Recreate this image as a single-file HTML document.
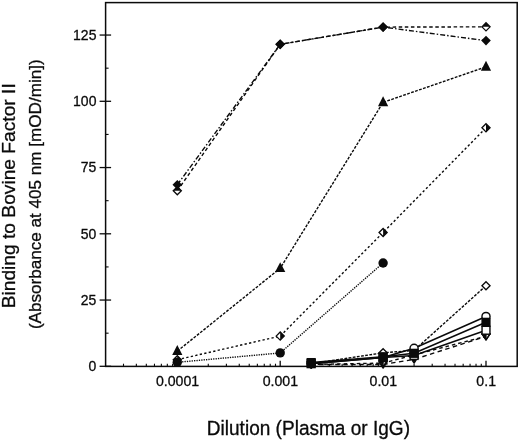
<!DOCTYPE html>
<html><head><meta charset="utf-8"><title>Chart</title>
<style>
html,body{margin:0;padding:0;background:#fff;}
svg text{font-family:"Liberation Sans",sans-serif;fill:#0a0a0a;stroke:#0a0a0a;stroke-width:0.3px;}
.t{font-size:14.5px;}
.xl{font-size:19.5px;}
.yl1{font-size:19.2px;}
.yl2{font-size:17.1px;}
</style></head><body>
<svg width="520" height="441" viewBox="0 0 520 441" style="display:block">
<rect width="520" height="441" fill="#fff"/>
<rect x="105.6" y="2.6" width="411.6" height="363.79999999999995" fill="none" stroke="#0a0a0a" stroke-width="1.5"/>
<line x1="99.6" x2="111.1" y1="366.30" y2="366.30" stroke="#0a0a0a" stroke-width="1.3"/>
<text transform="translate(96.39999999999999,371.10) scale(0.965,1)" text-anchor="end" class="t">0</text>
<line x1="99.6" x2="111.1" y1="300.05" y2="300.05" stroke="#0a0a0a" stroke-width="1.3"/>
<text transform="translate(96.39999999999999,304.85) scale(0.965,1)" text-anchor="end" class="t">25</text>
<line x1="99.6" x2="111.1" y1="233.80" y2="233.80" stroke="#0a0a0a" stroke-width="1.3"/>
<text transform="translate(96.39999999999999,238.60) scale(0.965,1)" text-anchor="end" class="t">50</text>
<line x1="99.6" x2="111.1" y1="167.55" y2="167.55" stroke="#0a0a0a" stroke-width="1.3"/>
<text transform="translate(96.39999999999999,172.35) scale(0.965,1)" text-anchor="end" class="t">75</text>
<line x1="99.6" x2="111.1" y1="101.30" y2="101.30" stroke="#0a0a0a" stroke-width="1.3"/>
<text transform="translate(96.39999999999999,106.10) scale(0.965,1)" text-anchor="end" class="t">100</text>
<line x1="99.6" x2="111.1" y1="35.05" y2="35.05" stroke="#0a0a0a" stroke-width="1.3"/>
<text transform="translate(96.39999999999999,39.85) scale(0.965,1)" text-anchor="end" class="t">125</text>
<line x1="105.6" x2="108.6" y1="333.18" y2="333.18" stroke="#0a0a0a" stroke-width="1.1"/>
<line x1="105.6" x2="108.6" y1="266.93" y2="266.93" stroke="#0a0a0a" stroke-width="1.1"/>
<line x1="105.6" x2="108.6" y1="200.68" y2="200.68" stroke="#0a0a0a" stroke-width="1.1"/>
<line x1="105.6" x2="108.6" y1="134.43" y2="134.43" stroke="#0a0a0a" stroke-width="1.1"/>
<line x1="105.6" x2="108.6" y1="68.18" y2="68.18" stroke="#0a0a0a" stroke-width="1.1"/>
<line x1="177.30" x2="177.30" y1="360.79999999999995" y2="366.4" stroke="#0a0a0a" stroke-width="1.3"/>
<text transform="translate(177.50,385.79999999999995) scale(0.976,1)" text-anchor="middle" class="t">0.0001</text>
<line x1="280.20" x2="280.20" y1="360.79999999999995" y2="366.4" stroke="#0a0a0a" stroke-width="1.3"/>
<text transform="translate(280.40,385.79999999999995) scale(0.976,1)" text-anchor="middle" class="t">0.001</text>
<line x1="383.10" x2="383.10" y1="360.79999999999995" y2="366.4" stroke="#0a0a0a" stroke-width="1.3"/>
<text transform="translate(383.30,385.79999999999995) scale(0.976,1)" text-anchor="middle" class="t">0.01</text>
<line x1="486.00" x2="486.00" y1="360.79999999999995" y2="366.4" stroke="#0a0a0a" stroke-width="1.3"/>
<text transform="translate(486.20,385.79999999999995) scale(0.976,1)" text-anchor="middle" class="t">0.1</text>
<line x1="123.50" x2="123.50" y1="363.7" y2="366.4" stroke="#0a0a0a" stroke-width="1.1"/>
<line x1="136.35" x2="136.35" y1="363.7" y2="366.4" stroke="#0a0a0a" stroke-width="1.1"/>
<line x1="146.32" x2="146.32" y1="363.7" y2="366.4" stroke="#0a0a0a" stroke-width="1.1"/>
<line x1="154.47" x2="154.47" y1="363.7" y2="366.4" stroke="#0a0a0a" stroke-width="1.1"/>
<line x1="161.36" x2="161.36" y1="363.7" y2="366.4" stroke="#0a0a0a" stroke-width="1.1"/>
<line x1="167.33" x2="167.33" y1="363.7" y2="366.4" stroke="#0a0a0a" stroke-width="1.1"/>
<line x1="172.59" x2="172.59" y1="363.7" y2="366.4" stroke="#0a0a0a" stroke-width="1.1"/>
<line x1="208.28" x2="208.28" y1="363.7" y2="366.4" stroke="#0a0a0a" stroke-width="1.1"/>
<line x1="226.40" x2="226.40" y1="363.7" y2="366.4" stroke="#0a0a0a" stroke-width="1.1"/>
<line x1="239.25" x2="239.25" y1="363.7" y2="366.4" stroke="#0a0a0a" stroke-width="1.1"/>
<line x1="249.22" x2="249.22" y1="363.7" y2="366.4" stroke="#0a0a0a" stroke-width="1.1"/>
<line x1="257.37" x2="257.37" y1="363.7" y2="366.4" stroke="#0a0a0a" stroke-width="1.1"/>
<line x1="264.26" x2="264.26" y1="363.7" y2="366.4" stroke="#0a0a0a" stroke-width="1.1"/>
<line x1="270.23" x2="270.23" y1="363.7" y2="366.4" stroke="#0a0a0a" stroke-width="1.1"/>
<line x1="275.49" x2="275.49" y1="363.7" y2="366.4" stroke="#0a0a0a" stroke-width="1.1"/>
<line x1="311.18" x2="311.18" y1="363.7" y2="366.4" stroke="#0a0a0a" stroke-width="1.1"/>
<line x1="329.30" x2="329.30" y1="363.7" y2="366.4" stroke="#0a0a0a" stroke-width="1.1"/>
<line x1="342.15" x2="342.15" y1="363.7" y2="366.4" stroke="#0a0a0a" stroke-width="1.1"/>
<line x1="352.12" x2="352.12" y1="363.7" y2="366.4" stroke="#0a0a0a" stroke-width="1.1"/>
<line x1="360.27" x2="360.27" y1="363.7" y2="366.4" stroke="#0a0a0a" stroke-width="1.1"/>
<line x1="367.16" x2="367.16" y1="363.7" y2="366.4" stroke="#0a0a0a" stroke-width="1.1"/>
<line x1="373.13" x2="373.13" y1="363.7" y2="366.4" stroke="#0a0a0a" stroke-width="1.1"/>
<line x1="378.39" x2="378.39" y1="363.7" y2="366.4" stroke="#0a0a0a" stroke-width="1.1"/>
<line x1="414.08" x2="414.08" y1="363.7" y2="366.4" stroke="#0a0a0a" stroke-width="1.1"/>
<line x1="432.20" x2="432.20" y1="363.7" y2="366.4" stroke="#0a0a0a" stroke-width="1.1"/>
<line x1="445.05" x2="445.05" y1="363.7" y2="366.4" stroke="#0a0a0a" stroke-width="1.1"/>
<line x1="455.02" x2="455.02" y1="363.7" y2="366.4" stroke="#0a0a0a" stroke-width="1.1"/>
<line x1="463.17" x2="463.17" y1="363.7" y2="366.4" stroke="#0a0a0a" stroke-width="1.1"/>
<line x1="470.06" x2="470.06" y1="363.7" y2="366.4" stroke="#0a0a0a" stroke-width="1.1"/>
<line x1="476.03" x2="476.03" y1="363.7" y2="366.4" stroke="#0a0a0a" stroke-width="1.1"/>
<line x1="481.29" x2="481.29" y1="363.7" y2="366.4" stroke="#0a0a0a" stroke-width="1.1"/>
<text transform="translate(308.4,434.6) scale(0.977,1)" text-anchor="middle" class="xl">Dilution (Plasma or IgG)</text>
<text transform="translate(15,195.8) rotate(-90)" text-anchor="middle" class="yl1">Binding to Bovine Factor II</text>
<text transform="translate(41.2,194.2) rotate(-90)" text-anchor="middle" class="yl2">(Absorbance at 405 nm [mOD/min])</text>
<polyline points="311.18,364.44 383.10,364.44 414.08,359.41 486.00,336.36" fill="none" stroke="#0a0a0a" stroke-width="1.4" stroke-dasharray="4.5 3.5"/>
<polyline points="311.18,364.44 383.10,363.12 414.08,354.91 486.00,336.36" fill="none" stroke="#0a0a0a" stroke-width="1.4" stroke-dasharray="3.5 3"/>
<polyline points="311.18,363.65 383.10,357.56 414.08,355.44 486.00,330.26" fill="none" stroke="#0a0a0a" stroke-width="1.6"/>
<polyline points="311.18,362.59 383.10,356.76 414.08,353.31 486.00,322.31" fill="none" stroke="#0a0a0a" stroke-width="1.6"/>
<polyline points="311.18,363.65 383.10,357.56 414.08,348.28 486.00,316.48" fill="none" stroke="#0a0a0a" stroke-width="1.6"/>
<polyline points="311.18,363.65 383.10,352.79 414.08,350.40 486.00,285.74" fill="none" stroke="#0a0a0a" stroke-width="1.4" stroke-dasharray="2.8 1.4"/>
<polyline points="177.30,362.32 280.20,352.92 383.10,262.95" fill="none" stroke="#0a0a0a" stroke-width="1.4" stroke-dasharray="1.3 1.1"/>
<polyline points="177.30,359.68 280.20,336.09 383.10,232.48 486.00,127.80" fill="none" stroke="#0a0a0a" stroke-width="1.4" stroke-dasharray="2.3 2.3"/>
<polyline points="177.30,351.19 280.20,268.25 383.10,102.36 486.00,66.85" fill="none" stroke="#0a0a0a" stroke-width="1.4" stroke-dasharray="2.8 1.4"/>
<polyline points="177.30,190.74 280.20,44.33 383.10,27.10 486.00,26.84" fill="none" stroke="#0a0a0a" stroke-width="1.4" stroke-dasharray="3.5 2.6"/>
<polyline points="177.30,184.78 280.20,44.33 383.10,27.10 486.00,40.62" fill="none" stroke="#0a0a0a" stroke-width="1.4" stroke-dasharray="5 2 1.5 2"/>
<polygon points="307.18,361.84 315.18,361.84 311.18,368.05" fill="#0a0a0a" stroke="#0a0a0a" stroke-width="1.4" stroke-linejoin="round"/>
<polygon points="379.10,361.84 387.10,361.84 383.10,368.05" fill="#0a0a0a" stroke="#0a0a0a" stroke-width="1.4" stroke-linejoin="round"/>
<polygon points="410.08,356.81 418.08,356.81 414.08,363.01" fill="#0a0a0a" stroke="#0a0a0a" stroke-width="1.4" stroke-linejoin="round"/>
<polygon points="482.00,333.75 490.00,333.75 486.00,339.96" fill="#0a0a0a" stroke="#0a0a0a" stroke-width="1.4" stroke-linejoin="round"/>
<polygon points="307.18,361.84 315.18,361.84 311.18,368.05" fill="#fff" stroke="#0a0a0a" stroke-width="1.4" stroke-linejoin="round"/>
<polygon points="307.18,361.84 311.78,361.84 311.78,368.05" fill="#0a0a0a"/>
<polygon points="379.10,360.52 387.10,360.52 383.10,366.72" fill="#fff" stroke="#0a0a0a" stroke-width="1.4" stroke-linejoin="round"/>
<polygon points="379.10,360.52 383.70,360.52 383.70,366.72" fill="#0a0a0a"/>
<polygon points="410.08,352.31 418.08,352.31 414.08,358.51" fill="#fff" stroke="#0a0a0a" stroke-width="1.4" stroke-linejoin="round"/>
<polygon points="410.08,352.31 414.68,352.31 414.68,358.51" fill="#0a0a0a"/>
<polygon points="482.00,333.75 490.00,333.75 486.00,339.96" fill="#fff" stroke="#0a0a0a" stroke-width="1.4" stroke-linejoin="round"/>
<polygon points="482.00,333.75 486.60,333.75 486.60,339.96" fill="#0a0a0a"/>
<polygon points="307.13,363.65 311.18,359.60 315.23,363.65 311.18,367.70" fill="#fff" stroke="#0a0a0a" stroke-width="1.3"/>
<polygon points="379.05,352.79 383.10,348.74 387.15,352.79 383.10,356.84" fill="#fff" stroke="#0a0a0a" stroke-width="1.3"/>
<polygon points="410.03,350.40 414.08,346.35 418.13,350.40 414.08,354.45" fill="#fff" stroke="#0a0a0a" stroke-width="1.3"/>
<polygon points="481.95,285.74 486.00,281.69 490.05,285.74 486.00,289.79" fill="#fff" stroke="#0a0a0a" stroke-width="1.3"/>
<circle cx="311.18" cy="363.65" r="4.05" fill="#fff" stroke="#0a0a0a" stroke-width="1.4"/>
<circle cx="383.10" cy="357.56" r="4.05" fill="#fff" stroke="#0a0a0a" stroke-width="1.4"/>
<circle cx="414.08" cy="348.28" r="4.05" fill="#fff" stroke="#0a0a0a" stroke-width="1.4"/>
<circle cx="486.00" cy="316.48" r="4.05" fill="#fff" stroke="#0a0a0a" stroke-width="1.4"/>
<rect x="307.23" y="359.70" width="7.9" height="7.9" fill="#fff" stroke="#0a0a0a" stroke-width="1.4"/>
<rect x="379.15" y="353.61" width="7.9" height="7.9" fill="#fff" stroke="#0a0a0a" stroke-width="1.4"/>
<rect x="410.13" y="351.49" width="7.9" height="7.9" fill="#fff" stroke="#0a0a0a" stroke-width="1.4"/>
<rect x="482.05" y="326.31" width="7.9" height="7.9" fill="#fff" stroke="#0a0a0a" stroke-width="1.4"/>
<rect x="306.58" y="357.99" width="9.2" height="9.2" fill="#0a0a0a"/>
<rect x="378.50" y="352.16" width="9.2" height="9.2" fill="#0a0a0a"/>
<rect x="409.48" y="348.71" width="9.2" height="9.2" fill="#0a0a0a"/>
<rect x="481.40" y="317.71" width="9.2" height="9.2" fill="#0a0a0a"/>
<polygon points="173.25,359.68 177.30,355.62 181.35,359.68 177.30,363.73" fill="#fff" stroke="#0a0a0a" stroke-width="1.3"/>
<polygon points="177.30,355.62 177.30,363.73 181.35,359.68" fill="#0a0a0a"/>
<polygon points="276.15,336.09 280.20,332.04 284.25,336.09 280.20,340.14" fill="#fff" stroke="#0a0a0a" stroke-width="1.3"/>
<polygon points="280.20,332.04 280.20,340.14 284.25,336.09" fill="#0a0a0a"/>
<polygon points="379.05,232.48 383.10,228.43 387.15,232.48 383.10,236.53" fill="#fff" stroke="#0a0a0a" stroke-width="1.3"/>
<polygon points="383.10,228.43 383.10,236.53 387.15,232.48" fill="#0a0a0a"/>
<polygon points="481.95,127.80 486.00,123.75 490.05,127.80 486.00,131.85" fill="#fff" stroke="#0a0a0a" stroke-width="1.3"/>
<polygon points="486.00,123.75 486.00,131.85 490.05,127.80" fill="#0a0a0a"/>
<circle cx="177.30" cy="362.32" r="4.7" fill="#0a0a0a"/>
<circle cx="280.20" cy="352.92" r="4.7" fill="#0a0a0a"/>
<circle cx="383.10" cy="262.95" r="4.7" fill="#0a0a0a"/>
<polygon points="172.20,355.00 182.40,355.00 177.30,345.09" fill="#0a0a0a"/>
<polygon points="275.10,272.05 285.30,272.05 280.20,262.15" fill="#0a0a0a"/>
<polygon points="378.00,106.16 388.20,106.16 383.10,96.26" fill="#0a0a0a"/>
<polygon points="480.90,70.65 491.10,70.65 486.00,60.75" fill="#0a0a0a"/>
<polygon points="173.25,190.74 177.30,186.69 181.35,190.74 177.30,194.79" fill="#fff" stroke="#0a0a0a" stroke-width="1.3"/>
<polygon points="173.25,190.74 181.35,190.74 177.30,186.69" fill="#0a0a0a"/>
<polygon points="276.15,44.33 280.20,40.28 284.25,44.33 280.20,48.38" fill="#fff" stroke="#0a0a0a" stroke-width="1.3"/>
<polygon points="276.15,44.33 284.25,44.33 280.20,40.28" fill="#0a0a0a"/>
<polygon points="379.05,27.10 383.10,23.05 387.15,27.10 383.10,31.15" fill="#fff" stroke="#0a0a0a" stroke-width="1.3"/>
<polygon points="379.05,27.10 387.15,27.10 383.10,23.05" fill="#0a0a0a"/>
<polygon points="481.95,26.84 486.00,22.79 490.05,26.84 486.00,30.89" fill="#fff" stroke="#0a0a0a" stroke-width="1.3"/>
<polygon points="481.95,26.84 490.05,26.84 486.00,22.79" fill="#0a0a0a"/>
<polygon points="172.50,184.78 177.30,179.97 182.10,184.78 177.30,189.58" fill="#0a0a0a"/>
<polygon points="275.40,44.33 280.20,39.53 285.00,44.33 280.20,49.13" fill="#0a0a0a"/>
<polygon points="378.30,27.10 383.10,22.30 387.90,27.10 383.10,31.90" fill="#0a0a0a"/>
<polygon points="481.20,40.62 486.00,35.82 490.80,40.62 486.00,45.42" fill="#0a0a0a"/>
</svg>
</body></html>
